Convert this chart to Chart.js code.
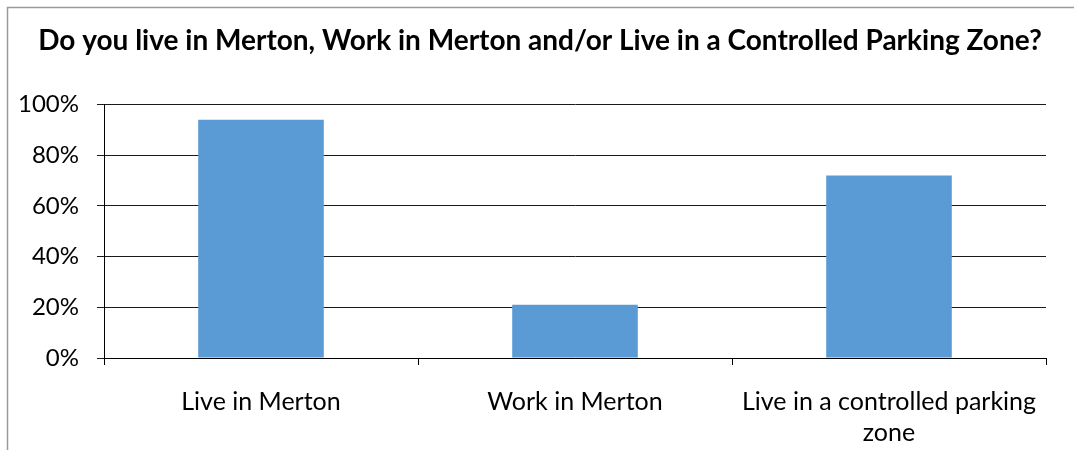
<!DOCTYPE html>
<html>
<head>
<meta charset="utf-8">
<script src="https://cdn.jsdelivr.net/npm/chart.js@4"></script>
<style>
  html, body { margin: 0; padding: 0; background: #fff; overflow: hidden; }
  #wrap { width: 1074px; height: 450px; position: relative; }
</style>
</head>
<body>
<div id="wrap"><canvas id="myChart"></canvas></div>
<script>
var categories = ["Live in Merton", "Work in Merton", ["Live in a controlled parking", "zone"]];
var shareYes = [94, 21, 72];
var yTicks = [0, 20, 40, 60, 80, 100];

var FONT = "Lato, 'Open Sans', sans-serif";

// thin grey frame along the top and left edges
var framePlugin = {
    id: 'frame',
    afterLayout: function (chart) {
        // let the y labels use the space of the left padding (labels are clipped to the scale box)
        chart.scales.y.left = 0;
    },
    beforeDraw: function (chart) {
        var c = chart.ctx;
        c.save();
        c.fillStyle = '#fff';
        c.fillRect(0, 0, chart.width, chart.height);
        c.strokeStyle = '#9a9a9a';
        c.lineWidth = 1.5;
        c.beginPath();
        c.moveTo(7.5, chart.height);
        c.lineTo(7.5, 7.5);
        c.lineTo(chart.width, 7.5);
        c.stroke();
        c.restore();
    }
};

var ctx = document.getElementById('myChart').getContext('2d');
var chart = new Chart(ctx, {
    type: 'bar',
    data: {
        labels: categories,
        datasets: [
            {
                label: 'Yes',
                backgroundColor: '#5B9BD5',
                borderWidth: 0,
                barPercentage: 0.4,
                categoryPercentage: 1.0,
                data: shareYes,
            }
        ]
    },
    plugins: [framePlugin],
    options: {
        responsive: true,
        maintainAspectRatio: false,
        animation: false,
        layout: {
            // left padding + y scale width puts the plot edge at x=104
            padding: { left: 34, right: 28, top: 7, bottom: 0 }
        },
        plugins: {
            legend: { display: false },
            tooltip: { enabled: false },
            title: {
                display: true,
                text: 'Do you live in Merton, Work in Merton and/or Live in a Controlled Parking Zone?',
                color: '#000',
                font: { family: FONT, size: 28, weight: 'bold', lineHeight: 1.2 },
                padding: { top: 17, bottom: 47 }
            }
        },
        scales: {
            x: {
                grid: {
                    drawOnChartArea: false,
                    color: '#000',
                    tickLength: 7,
                    offset: true
                },
                border: { color: '#000', width: 1 },
                ticks: {
                    color: '#000',
                    padding: 21,
                    maxRotation: 0,
                    autoSkip: false,
                    font: { family: FONT, size: 25, lineHeight: 1.25 }
                },
                afterFit: function (s) { s.height = 92; }
            },
            y: {
                min: 0,
                max: 100,
                afterBuildTicks: function (s) {
                    s.ticks = yTicks.map(function (v) { return { value: v }; });
                },
                grid: {
                    color: '#1a1a1a',
                    tickLength: 7
                },
                border: { color: '#000', width: 1 },
                ticks: {
                    color: '#000',
                    padding: 18,
                    font: { family: FONT, size: 24 },
                    callback: function (v) { return v + '%'; }
                },
                afterFit: function (s) { s.width = 70; }
            }
        }
    }
});
</script>
</body>
</html>
